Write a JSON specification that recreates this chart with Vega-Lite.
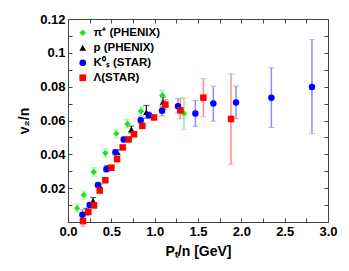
{
  "$schema": "https://vega.github.io/schema/vega-lite/v6.json",
  "autosize": "none",
  "width": 260,
  "height": 203,
  "padding": {"left": 68, "top": 19, "right": 21, "bottom": 49},
  "config": {
    "font": "Liberation Sans",
    "view": {"stroke": "#444", "strokeWidth": 1},
    "axis": {"grid": false, "domain": false, "tickColor": "#444", "tickSize": -4, "labelFont": "Liberation Sans", "labelFontWeight": "bold", "labelFontSize": 13, "labelColor": "#000", "titleFont": "Liberation Sans", "titleFontWeight": "bold", "titleFontSize": 14, "titleColor": "#000", "labelFlush": false, "labelBound": false, "labelOverlap": false},
    "legend": {"orient": "none", "legendX": 9, "legendY": 8, "title": null, "padding": 0, "labelFont": "Liberation Sans", "labelFontWeight": "bold", "labelFontSize": 11.5, "labelColor": "#000", "symbolSize": 45, "symbolStrokeWidth": 0, "rowPadding": 2, "labelOffset": 5}
  },
  "data": {"values": [
    {"s": "pi", "x": 0.104, "y": 0.0082, "lo": 0.0057, "hi": 0.0107},
    {"s": "pi", "x": 0.181, "y": 0.0159, "lo": 0.0134, "hi": 0.0184},
    {"s": "pi", "x": 0.297, "y": 0.0296, "lo": 0.0271, "hi": 0.0321},
    {"s": "pi", "x": 0.431, "y": 0.0408, "lo": 0.0383, "hi": 0.0433},
    {"s": "pi", "x": 0.558, "y": 0.0523, "lo": 0.0498, "hi": 0.0548},
    {"s": "pi", "x": 0.685, "y": 0.058, "lo": 0.0555, "hi": 0.0605},
    {"s": "pi", "x": 0.843, "y": 0.0655, "lo": 0.063, "hi": 0.068},
    {"s": "pi", "x": 1.089, "y": 0.0749, "lo": 0.0719, "hi": 0.0779},
    {"s": "pi", "x": 1.338, "y": 0.0641, "lo": 0.0547, "hi": 0.0735},
    {"s": "p", "x": 0.212, "y": 0.0061, "lo": 0.0041, "hi": 0.0081},
    {"s": "p", "x": 0.289, "y": 0.0125, "lo": 0.0105, "hi": 0.0145},
    {"s": "p", "x": 0.369, "y": 0.021, "lo": 0.0195, "hi": 0.0225},
    {"s": "p", "x": 0.454, "y": 0.0318, "lo": 0.0303, "hi": 0.0333},
    {"s": "p", "x": 0.57, "y": 0.0412, "lo": 0.0397, "hi": 0.0427},
    {"s": "p", "x": 0.731, "y": 0.0547, "lo": 0.0527, "hi": 0.0567},
    {"s": "p", "x": 0.904, "y": 0.0649, "lo": 0.0614, "hi": 0.0689},
    {"s": "p", "x": 1.096, "y": 0.0709, "lo": 0.0679, "hi": 0.0739},
    {"s": "K", "x": 0.166, "y": 0.0043, "lo": 0.0013, "hi": 0.0073},
    {"s": "K", "x": 0.25, "y": 0.01, "lo": 0.0085, "hi": 0.0115},
    {"s": "K", "x": 0.346, "y": 0.0219, "lo": 0.0204, "hi": 0.0234},
    {"s": "K", "x": 0.443, "y": 0.0312, "lo": 0.0297, "hi": 0.0327},
    {"s": "K", "x": 0.547, "y": 0.0412, "lo": 0.0397, "hi": 0.0427},
    {"s": "K", "x": 0.643, "y": 0.0488, "lo": 0.0473, "hi": 0.0503},
    {"s": "K", "x": 0.839, "y": 0.0602, "lo": 0.0582, "hi": 0.0622},
    {"s": "K", "x": 0.935, "y": 0.0631, "lo": 0.0611, "hi": 0.0651},
    {"s": "K", "x": 1.085, "y": 0.0657, "lo": 0.0627, "hi": 0.0687},
    {"s": "K", "x": 1.269, "y": 0.0684, "lo": 0.0645, "hi": 0.073},
    {"s": "K", "x": 1.47, "y": 0.0641, "lo": 0.0566, "hi": 0.0719},
    {"s": "K", "x": 1.677, "y": 0.07, "lo": 0.0596, "hi": 0.0803},
    {"s": "K", "x": 1.939, "y": 0.0706, "lo": 0.061, "hi": 0.0803},
    {"s": "K", "x": 2.347, "y": 0.0735, "lo": 0.0559, "hi": 0.0912},
    {"s": "K", "x": 2.815, "y": 0.0798, "lo": 0.0524, "hi": 0.1078},
    {"s": "L", "x": 0.173, "y": 0.0005, "lo": -0.0025, "hi": 0.0035},
    {"s": "L", "x": 0.235, "y": 0.006, "lo": 0.0045, "hi": 0.0075},
    {"s": "L", "x": 0.3, "y": 0.0098, "lo": 0.0083, "hi": 0.0113},
    {"s": "L", "x": 0.366, "y": 0.0186, "lo": 0.0171, "hi": 0.0201},
    {"s": "L", "x": 0.431, "y": 0.0247, "lo": 0.0232, "hi": 0.0262},
    {"s": "L", "x": 0.501, "y": 0.0321, "lo": 0.0306, "hi": 0.0336},
    {"s": "L", "x": 0.566, "y": 0.0372, "lo": 0.0357, "hi": 0.0387},
    {"s": "L", "x": 0.631, "y": 0.0441, "lo": 0.0426, "hi": 0.0456},
    {"s": "L", "x": 0.7, "y": 0.0488, "lo": 0.0473, "hi": 0.0503},
    {"s": "L", "x": 0.762, "y": 0.0519, "lo": 0.0504, "hi": 0.0534},
    {"s": "L", "x": 0.858, "y": 0.0568, "lo": 0.0553, "hi": 0.0583},
    {"s": "L", "x": 0.993, "y": 0.0618, "lo": 0.0603, "hi": 0.0633},
    {"s": "L", "x": 1.124, "y": 0.0694, "lo": 0.0664, "hi": 0.0724},
    {"s": "L", "x": 1.297, "y": 0.066, "lo": 0.061, "hi": 0.073},
    {"s": "L", "x": 1.562, "y": 0.0735, "lo": 0.0621, "hi": 0.0847},
    {"s": "L", "x": 1.881, "y": 0.0609, "lo": 0.0341, "hi": 0.0876}
  ]},
  "layer": [
    {
      "transform": [{"filter": "datum.s == 'pi'"}],
      "mark": {"type": "errorbar", "color": "#8ff08f", "ticks": {"size": 6}, "rule": {"strokeWidth": 1.5}},
      "encoding": {
        "x": {"field": "x", "type": "quantitative", "scale": {"domain": [0, 3], "nice": false},
              "axis": {"orient": "top", "labels": false, "title": null, "values": [0,0.25,0.5,0.75,1,1.25,1.5,1.75,2,2.25,2.5,2.75,3]}},
        "y": {"field": "lo", "type": "quantitative", "scale": {"domain": [0, 0.12], "nice": false},
              "axis": {"orient": "right", "labels": false, "title": null, "values": [0.01,0.02,0.03,0.04,0.05,0.06,0.07,0.08,0.09,0.1,0.11,0.12]}},
        "y2": {"field": "hi"}
      }
    },
    {
      "transform": [{"filter": "datum.s == 'p'"}],
      "mark": {"type": "errorbar", "color": "#111111", "ticks": {"size": 6}, "rule": {"strokeWidth": 1.2}},
      "encoding": {
        "x": {"field": "x", "type": "quantitative", "axis": null},
        "y": {"field": "lo", "type": "quantitative", "axis": null},
        "y2": {"field": "hi"}
      }
    },
    {
      "transform": [{"filter": "datum.s == 'K'"}],
      "mark": {"type": "errorbar", "color": "#8c8cff", "ticks": {"size": 6}, "rule": {"strokeWidth": 1.5}},
      "encoding": {
        "x": {"field": "x", "type": "quantitative", "axis": null},
        "y": {"field": "lo", "type": "quantitative", "axis": null},
        "y2": {"field": "hi"}
      }
    },
    {
      "transform": [{"filter": "datum.s == 'L'"}],
      "mark": {"type": "errorbar", "color": "#ff8c8c", "ticks": {"size": 6}, "rule": {"strokeWidth": 1.5}},
      "encoding": {
        "x": {"field": "x", "type": "quantitative", "axis": null},
        "y": {"field": "lo", "type": "quantitative", "axis": null},
        "y2": {"field": "hi"}
      }
    },
    {
      "mark": {"type": "point", "filled": true, "opacity": 1, "size": 42},
      "encoding": {
        "x": {"field": "x", "type": "quantitative",
              "axis": {"orient": "bottom", "title": "Pₜ/n [GeV]", "titlePadding": 6, "labelPadding": 7,
                       "values": [0,0.25,0.5,0.75,1,1.25,1.5,1.75,2,2.25,2.5,2.75,3],
                       "labelExpr": "round(datum.value*4) % 2 == 0 ? format(datum.value, '.1f') : ''"}},
        "y": {"field": "y", "type": "quantitative",
              "axis": {"orient": "left", "title": "v₂/n", "titlePadding": 8, "labelPadding": 7,
                       "values": [0.01,0.02,0.03,0.04,0.05,0.06,0.07,0.08,0.09,0.1,0.11,0.12],
                       "labelExpr": "round(datum.value*100) % 2 == 0 ? format(datum.value, '.2~f') : ''"}},
        "color": {"field": "s", "type": "nominal",
                  "scale": {"domain": ["pi", "p", "K", "L"], "range": ["#1ee61e", "#000000", "#0000ff", "#ff0000"]},
                  "legend": {"labelExpr": "{'pi': 'π⁺ (PHENIX)', 'p': 'p (PHENIX)', 'K': 'K⁰ₛ (STAR)', 'L': 'Λ(STAR)'}[datum.label]"}},
        "shape": {"field": "s", "type": "nominal",
                  "scale": {"domain": ["pi", "p", "K", "L"], "range": ["diamond", "triangle-up", "circle", "square"]},
                  "legend": {"labelExpr": "{'pi': 'π⁺ (PHENIX)', 'p': 'p (PHENIX)', 'K': 'K⁰ₛ (STAR)', 'L': 'Λ(STAR)'}[datum.label]"}}
      }
    }
  ],
  "resolve": {"axis": {"x": "independent", "y": "independent"}}
}
